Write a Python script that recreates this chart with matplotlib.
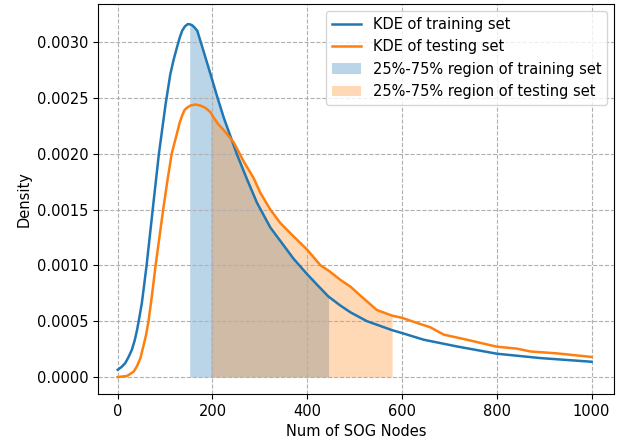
import numpy as np
import matplotlib
matplotlib.use("Agg")
import matplotlib.pyplot as plt

# KDE curves
train_x = [0, 8, 16, 23, 30, 36, 41, 46, 51, 56, 61, 69, 76, 87, 94, 101, 111, 118, 125, 131,
           136, 142, 148, 152, 157, 162, 168, 181, 196, 210, 224, 252, 273, 294, 322, 343, 371,
           400, 420, 445, 470, 491, 526, 579, 600, 646, 716, 800, 892, 1000]
train_y = [0.000065, 0.00009, 0.000125, 0.00018, 0.000245, 0.00033, 0.000424, 0.00054,
           0.000663, 0.00083, 0.001, 0.00131, 0.00158, 0.002, 0.00222, 0.00244, 0.00271,
           0.00284, 0.00295, 0.00304, 0.0031, 0.00314, 0.00316, 0.003158, 0.00315, 0.00313,
           0.0031, 0.00292, 0.00271, 0.00251, 0.00232, 0.00199, 0.00177, 0.00156, 0.00134,
           0.00122, 0.00106, 0.00092, 0.00083, 0.00072, 0.00064, 0.00058, 0.0005, 0.00042,
           0.000394, 0.000334, 0.000274, 0.000209, 0.00017, 0.000137]

test_x = [0, 20, 34, 41, 48, 55, 60, 65, 72, 80, 88, 96, 105, 114, 125, 131, 136, 141, 146,
          153, 164, 175, 185, 196, 203, 213, 224, 245, 266, 287, 301, 322, 343, 371, 400, 428,
          446, 470, 491, 512, 547, 579, 600, 632, 660, 688, 737, 800, 843, 871, 927, 1000]
test_y = [0, 0.00001, 0.00005, 0.0001, 0.00017, 0.00029, 0.00038, 0.0005, 0.00072, 0.001,
          0.00125, 0.0015, 0.00176, 0.002, 0.00218, 0.00228, 0.00234, 0.00239, 0.00241,
          0.00243, 0.00244, 0.00243, 0.00241, 0.00237, 0.00232, 0.00226, 0.00221, 0.0021,
          0.00193, 0.00178, 0.00165, 0.0015, 0.00138, 0.00126, 0.00114, 0.001, 0.00095,
          0.00087, 0.00081, 0.00073, 0.0006, 0.00055, 0.00053, 0.000484, 0.000445, 0.00038,
          0.000334, 0.000272, 0.000254, 0.000229, 0.000212, 0.00018]

# 25%-75% quantiles
train_q = (152, 445)
test_q = (196, 579)

train_x = np.array(train_x); train_y = np.array(train_y)
test_x = np.array(test_x); test_y = np.array(test_y)

plt.rcParams["font.size"] = 10.5

fig, ax = plt.subplots(figsize=(6.18, 4.41), dpi=100)
fig.subplots_adjust(left=0.159, right=0.994, top=0.991, bottom=0.107)

ax.plot(train_x, train_y, color="C0", lw=1.8, label="KDE of training set")
ax.plot(test_x, test_y, color="C1", lw=1.8, label="KDE of testing set")

m = (train_x >= train_q[0]) & (train_x <= train_q[1])
ax.fill_between(train_x[m], train_y[m], color="C0", alpha=0.3, lw=0,
                label="25%-75% region of training set")
m = (test_x >= test_q[0]) & (test_x <= test_q[1])
ax.fill_between(test_x[m], test_y[m], color="C1", alpha=0.3, lw=0,
                label="25%-75% region of testing set")

ax.set_xlim(-41, 1048)
ax.set_ylim(-0.00015, 0.00334)
ax.set_xticks([0, 200, 400, 600, 800, 1000])
ax.set_yticks(np.arange(0, 0.0031, 0.0005))
ax.yaxis.set_major_formatter(matplotlib.ticker.FormatStrFormatter("%.4f"))
ax.grid(True, linestyle="--", color="#b0b0b0", lw=0.8)
ax.set_xlabel("Num of SOG Nodes")
ax.set_ylabel("Density")
ax.legend(loc="upper right")

fig.savefig("out.png", dpi=100)
